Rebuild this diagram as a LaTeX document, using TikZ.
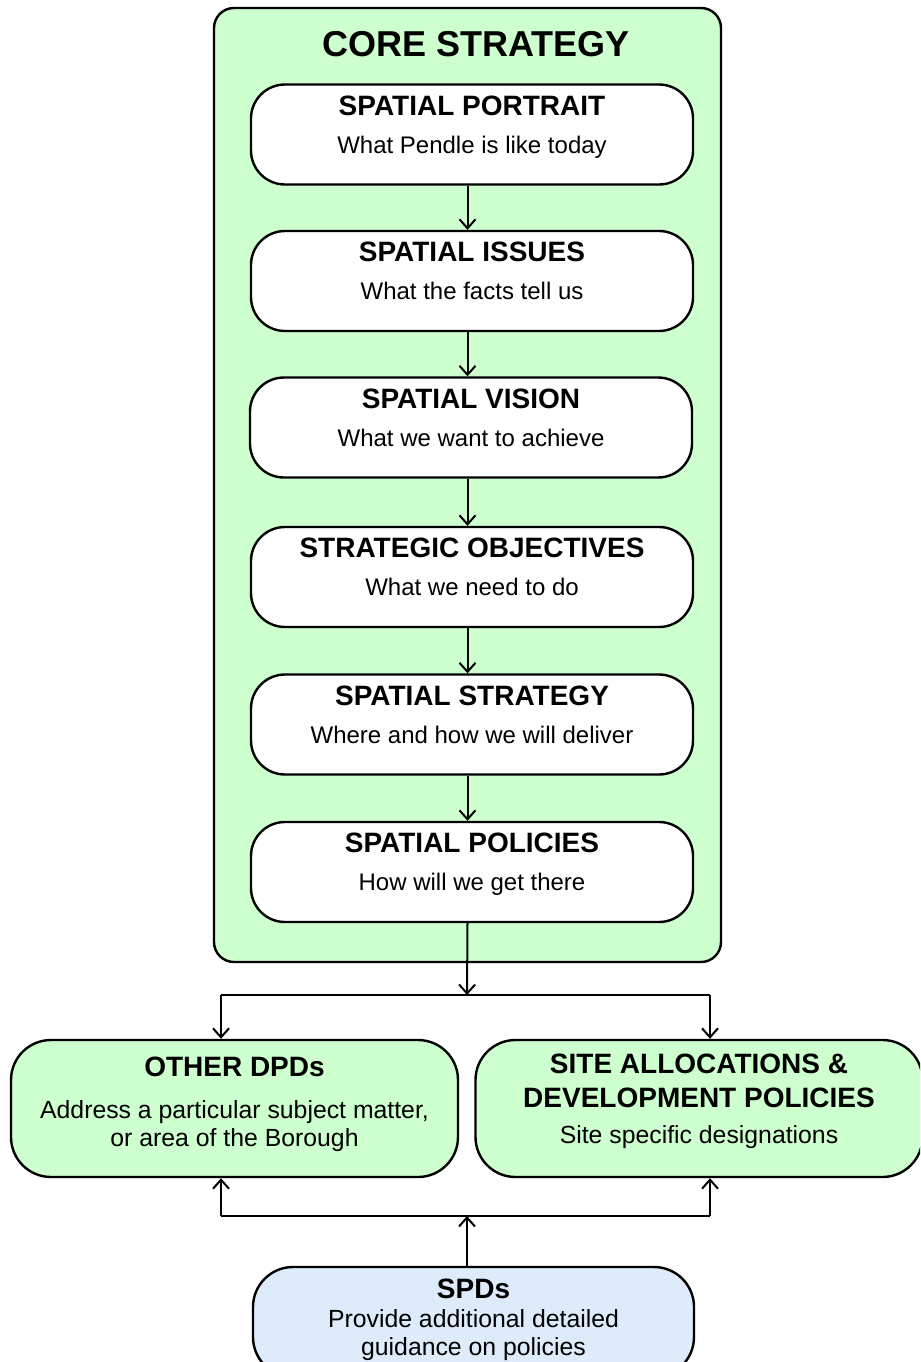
\documentclass[tikz,border=0pt]{standalone}
\usepackage{fontspec}
\setmainfont{Liberation Sans}
\usetikzlibrary{arrows.meta}
\definecolor{coregreen}{RGB}{206,255,206}
\definecolor{spdblue}{RGB}{221,235,250}
\newcommand{\boxhead}[1]{{\fontsize{14bp}{17bp}\selectfont\bfseries #1}}
\tikzset{
  stepbox/.style={draw, rounded corners=17bp, fill=white, line width=1.2bp,
    minimum width=221bp, minimum height=50bp, align=center, inner sep=0pt,
    text depth=10bp, font=\fontsize{12bp}{14.4bp}\selectfont},
  docbox/.style={draw, rounded corners=20bp, fill=coregreen, line width=1.2bp,
    minimum width=223.5bp, minimum height=68.5bp, align=center, inner sep=0pt,
    text depth=10bp, font=\fontsize{12.4bp}{14bp}\selectfont},
}
\begin{document}
\begin{tikzpicture}[x=0.5bp,y=-0.5bp,>={Straight Barb[length=4.5bp,width=8bp]},line join=bevel]
  \pgfsetlinewidth{1bp}
  \clip (0,0) rectangle (920,1362);
%%
  % Node: Core
  \node[draw, rounded corners=10bp, fill=coregreen, line width=1.2bp,
    minimum width=253.5bp, minimum height=477bp] (core) at (467.5,485) {};
  \node[font=\fontsize{18bp}{21bp}\selectfont\bfseries] (coretitle) at (476,44) {CORE STRATEGY};
  % Node: Portrait
  \node[stepbox] (portrait) at (472,134.5) {\boxhead{SPATIAL PORTRAIT}\\[4.5bp]What Pendle is like today};
  % Node: Issues
  \node[stepbox] (issues) at (472,281) {\boxhead{SPATIAL ISSUES}\\[4.5bp]What the facts tell us};
  % Node: Vision
  \node[stepbox] (vision) at (471,427.5) {\boxhead{SPATIAL VISION}\\[4.5bp]What we want to achieve};
  % Node: Objectives
  \node[stepbox] (objectives) at (472,577) {\boxhead{STRATEGIC OBJECTIVES}\\[4.5bp]What we need to do};
  % Node: Strategy
  \node[stepbox] (strategy) at (472,724.5) {\boxhead{SPATIAL STRATEGY}\\[4.5bp]Where and how we will deliver};
  % Node: Policies
  \node[stepbox] (policies) at (472,872) {\boxhead{SPATIAL POLICIES}\\[4.5bp]How will we get there};
  % Node: OtherDPDs
  \node[docbox, text depth=7bp] (other) at (234.5,1108.5) {\boxhead{OTHER DPDs}\\[7bp]Address a particular subject matter,\\or area of the Borough};
  % Node: SiteAllocations
  \node[docbox] (site) at (699,1108.5) {\boxhead{SITE ALLOCATIONS \&}\\[3bp]\boxhead{DEVELOPMENT POLICIES}\\[4bp]Site specific designations};
  % Node: SPDs
  \node[docbox, fill=spdblue, minimum width=220.5bp, minimum height=55bp, text depth=5bp] (spd) at (473.5,1322)
    {\boxhead{SPDs}\\[0.5bp]Provide additional detailed\\guidance on policies};
  \coordinate (fork) at (467,995);
  \coordinate (forkL) at (221,995);
  \coordinate (forkR) at (710,995);
  \coordinate (join) at (467,1216);
  \coordinate (joinL) at (221,1216);
  \coordinate (joinR) at (710,1216);
%%
  % Edge: Portrait -> Issues
  \draw [->] (portrait.south -| core) -- (issues.north -| core);
  % Edge: Issues -> Vision
  \draw [->] (issues.south -| core) -- (vision.north -| core);
  % Edge: Vision -> Objectives
  \draw [->] (vision.south -| core) -- (objectives.north -| core);
  % Edge: Objectives -> Strategy
  \draw [->] (objectives.south -| core) -- (strategy.north -| core);
  % Edge: Strategy -> Policies
  \draw [->] (strategy.south -| core) -- (policies.north -| core);
  % Edge: Policies -> fork
  \draw [->] (policies.south -| core) -- (fork);
  \draw (forkL) -- (forkR);
  % Edge: fork -> OtherDPDs, SiteAllocations
  \draw [->] (forkL) -- (forkL |- other.north);
  \draw [->] (forkR) -- (forkR |- site.north);
  % Edge: SPDs -> join
  \draw [->] (spd.north -| join) -- (join);
  \draw (joinL) -- (joinR);
  % Edge: join -> OtherDPDs, SiteAllocations
  \draw [->] (joinL) -- (joinL |- other.south);
  \draw [->] (joinR) -- (joinR |- site.south);
%
\end{tikzpicture}
\end{document}
